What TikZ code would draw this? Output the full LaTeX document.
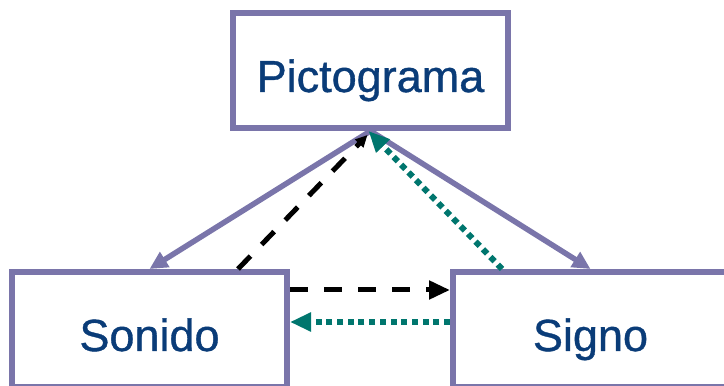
\documentclass[tikz,border=0pt]{standalone}
\usepackage{fontspec}
\setmainfont{Liberation Sans}
\newfontfamily\boxfont{Liberation Sans}[FakeBold=0.8]
\usetikzlibrary{arrows.meta}

\definecolor{boxline}{RGB}{122,117,170}
\definecolor{boxtext}{RGB}{10,60,120}
\definecolor{tealdot}{RGB}{0,118,110}

\begin{document}
\begin{tikzpicture}[line join=round,x=1pt,y=1pt,
	>={Triangle[length=21pt,width=18pt]},
	concept/.style={draw=boxline,line width=6pt,line join=miter,fill=white,minimum width=275pt,minimum height=115pt,inner sep=0pt,
		text height=43pt,text depth=0pt,text=boxtext,font=\boxfont\fontsize{45}{54}\selectfont},
	link/.style={->,draw=boxline,line width=5.5pt,>={Triangle[length=18pt,width=17pt]}},
	dashlink/.style={->,draw=black,line width=5pt,dash pattern=on 18pt off 16pt},
	dotlink/.style={->,draw=tealdot,line width=6pt,dash pattern=on 6pt off 4.7pt}]
			\useasboundingbox (0,0) rectangle (724,386);
			\clip (0,0) rectangle (724,386);
			\node[concept] (pic) at (370.5,315.5) {Pictograma};
			\node[concept] (son) at (149.5,56.5) {Sonido};
			\node[concept] (sig) at (590.5,56.5) {Signo};
			\draw[link] (pic.south) -- (son.north);
			\draw[link] (pic.south) -- (sig.north);
			\draw[dashlink,>={Triangle[length=12pt,width=11pt]}] ([xshift=-52pt]son.north east) -- ([xshift=-3pt,yshift=-4pt]pic.south);
			\draw[dashlink] ([yshift=39.5pt]son.east) -- ([yshift=39.5pt]sig.west);
			\draw[dotlink] ([xshift=52pt]sig.north west) -- ([xshift=-2pt]pic.south);
			\draw[dotlink] ([yshift=7.5pt]sig.west) -- ([yshift=7.5pt]son.east);
\end{tikzpicture}
\end{document}
